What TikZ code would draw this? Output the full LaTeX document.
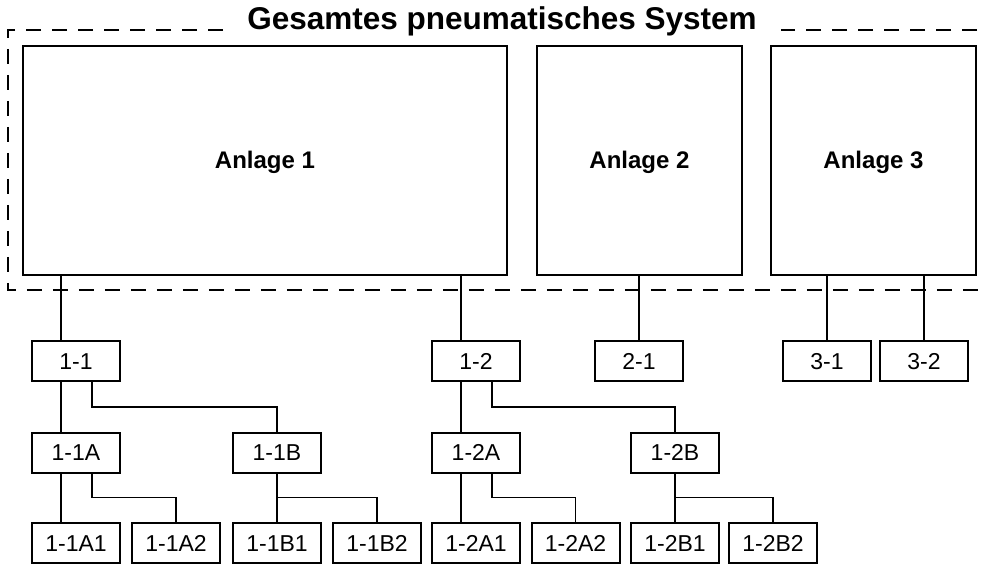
\documentclass[tikz,border=0pt]{standalone}
\usepackage{fontspec}
\setmainfont{Liberation Sans}
\usetikzlibrary{positioning}

\tikzset{
  anlage/.style={draw, line width=2pt, outer sep=0pt, minimum height=229pt,
    text height=17pt, text depth=0pt, font=\fontsize{24}{28}\selectfont\bfseries},
  teil/.style={draw, line width=2pt, outer sep=0pt, minimum width=88pt,
    minimum height=40pt, inner sep=0pt, text height=16.5pt, text depth=0pt,
    font=\fontsize{23}{27}\selectfont},
  verb/.style={line width=1.2pt},
  rahmen/.style={line width=1.8pt, dash pattern=on 15pt off 11pt}
}

\begin{document}
\begin{tikzpicture}[x=1pt, y=-1pt]
\useasboundingbox (0,0) rectangle (988,564);

% Gesamtsystem
\node[anchor=base, inner xsep=24pt, font=\fontsize{31.5}{36}\selectfont\bfseries]
  (titel) at (502,30) {Gesamtes pneumatisches System};
\draw[rahmen] (titel.base west) -- (8,30) -- (8,290) -- (996,290) -- (996,30) -- (titel.base east);

% Anlagen
\node[anlage, minimum width=484pt] (a1) at (265,160.5) {Anlage 1};
\node[anlage, minimum width=205pt] (a2) at (639.5,160.5) {Anlage 2};
\node[anlage, minimum width=205pt] (a3) at (873.5,160.5) {Anlage 3};

% erste Ebene
\node[teil] (n11) at (76,361) {1-1};
\node[teil] (n12) at (476,361) {1-2};
\node[teil] (n21) at (639,361) {2-1};
\node[teil] (n31) at (827,361) {3-1};
\node[teil] (n32) at (924,361) {3-2};

% zweite Ebene
\node[teil] (n11A) at (76,452.5) {1-1A};
\node[teil] (n11B) at (277,452.5) {1-1B};
\node[teil] (n12A) at (476,452.5) {1-2A};
\node[teil] (n12B) at (675,452.5) {1-2B};

% dritte Ebene
\node[teil] (n11A1) at (76,543) {1-1A1};
\node[teil] (n11A2) at (176,543) {1-1A2};
\node[teil] (n11B1) at (277,543) {1-1B1};
\node[teil] (n11B2) at (377,543) {1-1B2};
\node[teil] (n12A1) at (476,543) {1-2A1};
\node[teil] (n12A2) at (575.5,543) {1-2A2};
\node[teil] (n12B1) at (675,543) {1-2B1};
\node[teil] (n12B2) at (773,543) {1-2B2};

% Verbindungen Anlagen
\draw[verb] ([xshift=29]n11.north west) -- ([xshift=29]n11.north west |- a1.south);
\draw[verb] ([xshift=29]n12.north west) -- ([xshift=29]n12.north west |- a1.south);
\draw[verb] (n21.north) -- (n21.north |- a2.south);
\draw[verb] (n31.north) -- (n31.north |- a3.south);
\draw[verb] (n32.north) -- (n32.north |- a3.south);

% Verbindungen Teile
\draw[verb] ([xshift=29]n11.south west) -- ([xshift=29]n11A.north west);
\draw[verb] ([xshift=60]n11.south west) -- ++(0,26) -| (n11B.north);
\draw[verb] ([xshift=29]n12.south west) -- ([xshift=29]n12A.north west);
\draw[verb] ([xshift=60]n12.south west) -- ++(0,26) -| (n12B.north);

\draw[verb] ([xshift=29]n11A.south west) -- ([xshift=29]n11A1.north west);
\draw[verb] ([xshift=60]n11A.south west) -- ++(0,25) -| (n11A2.north);
\draw[verb] (n11B.south) -- (n11B1.north);
\draw[verb] (n11B.south) ++(0,25) -| (n11B2.north);
\draw[verb] ([xshift=29]n12A.south west) -- ([xshift=29]n12A1.north west);
\draw[verb] ([xshift=60]n12A.south west) -- ++(0,25) -| (n12A2.north);
\draw[verb] (n12B.south) -- (n12B1.north);
\draw[verb] (n12B.south) ++(0,25) -| (n12B2.north);
\end{tikzpicture}
\end{document}
